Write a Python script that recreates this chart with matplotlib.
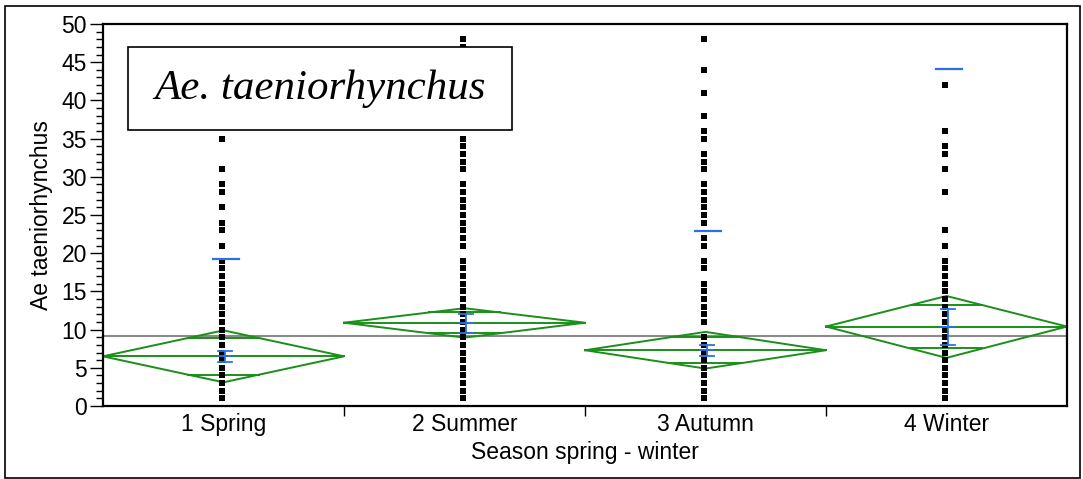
import numpy as np
import matplotlib
matplotlib.use('Agg')
import matplotlib.pyplot as plt
from matplotlib.patches import Rectangle

plt.rcParams['font.family'] = ['Liberation Sans', 'DejaVu Sans']

# Data
seasons = ['1 Spring', '2 Summer', '3 Autumn', '4 Winter']
spring = [1, 2, 3, 4, 5, 6, 7, 8, 9, 10, 11, 12, 13, 14, 15, 16, 17, 18, 19,
          21, 23, 24, 26, 28, 29, 31, 35]
summer = [1, 2, 3, 4, 5, 6, 7, 8, 9, 10, 11, 12, 13, 14, 15, 16, 17, 18, 19,
          21, 22, 23, 24, 25, 26, 27, 28, 29, 31, 32, 33, 34, 35, 38, 41, 44, 47, 48]
autumn = [1, 2, 3, 4, 5, 6, 7, 8, 9, 11, 12, 13, 14, 15, 16, 18, 19,
          21, 22, 24, 25, 26, 27, 28, 29, 31, 32, 33, 35, 36, 38, 41, 44, 48]
winter = [1, 2, 3, 4, 5, 6, 7, 8, 9, 10, 11, 12, 13, 14, 15, 16, 17, 18, 19,
          21, 23, 28, 31, 33, 34, 36, 42]
points = [spring, summer, autumn, winter]

means = [6.5, 10.9, 7.3, 10.4]
ci_low = [3.1, 8.95, 4.9, 6.3]
ci_high = [9.9, 12.8, 9.7, 14.4]
err_low = [5.8, 9.6, 6.5, 8.0]
err_high = [7.25, 12.0, 8.0, 12.65]
sd_upper = [19.2, 40.0, 22.9, 44.1]
grand_mean = 9.1

green = '#1a8f1a'
blue = '#2f6fe6'

fig = plt.figure(figsize=(10.83, 4.79), dpi=100)
ax = fig.add_axes([103 / 1083, 73 / 479, 964 / 1083, 382 / 479])

# grand mean line
ax.axhline(grand_mean, color='#8a8a8a', lw=1.5, zorder=1)

# means diamonds
for i, (m, lo, hi) in enumerate(zip(means, ci_low, ci_high)):
    ax.plot([i - 0.5, i, i + 0.5, i, i - 0.5], [m, hi, m, lo, m],
            color=green, lw=1.4, zorder=2)
    ax.plot([i - 0.5, i + 0.5], [m, m], color=green, lw=1.4, zorder=2)
    half = (hi - lo) / 2
    d = half / np.sqrt(2)
    w = 0.5 * (1 - d / half)
    for y in (m + d, m - d):
        ax.plot([i - w, i + w], [y, y], color=green, lw=1.4, zorder=2)

# raw points
for i, vals in enumerate(points):
    ax.plot(np.full(len(vals), i - 0.006), vals, 's', color='black',
            ms=3.8, mew=0, zorder=3)

# mean error bars and std dev lines
for i in range(4):
    x = i + 0.008
    ax.plot([x, x], [err_low[i], err_high[i]], color=blue, lw=1.3, zorder=4)
    for y in (err_low[i], err_high[i], means[i]):
        ax.plot([x - 0.029, x + 0.029], [y, y], color=blue, lw=1.3, zorder=4)
    xs = i + 0.012
    ax.plot([xs - 0.054, xs + 0.054], [sd_upper[i], sd_upper[i]],
            color=blue, lw=1.6, zorder=4)

ax.set_xlim(-0.5, 3.5)
ax.set_ylim(0, 50)
ax.set_yticks(np.arange(0, 51, 5))
ax.set_yticks(np.arange(0, 51, 1), minor=True)
ax.tick_params(axis='y', which='major', length=9.5, width=1.0, labelsize=16.5, pad=2)
ax.tick_params(axis='y', which='minor', length=5, width=1.0)

ax.set_xticks([0.5, 1.5, 2.5])
ax.set_xticklabels([])
ax.set_xticks(range(4), minor=True)
ax.set_xticklabels(seasons, minor=True)
ax.tick_params(axis='x', which='major', length=7.5, width=1.0)
ax.tick_params(axis='x', which='minor', length=0, labelsize=16.5, pad=5)

for s in ax.spines.values():
    s.set_linewidth(1.6)

ax.set_xlabel('Season spring - winter', fontsize=16.5, labelpad=4)
ax.set_ylabel('Ae taeniorhynchus', fontsize=16.5, labelpad=6)

# species label box
ax.add_patch(Rectangle((0.026, 0.7225), 0.398, 0.2175, transform=ax.transAxes,
                       facecolor='white', edgecolor='black', lw=1.2, zorder=5))
ax.text(0.225, 0.831, 'Ae. taeniorhynchus', transform=ax.transAxes,
        ha='center', va='center', fontsize=31, style='italic',
        family='Liberation Serif', zorder=6)

# outer frame
fig.add_artist(Rectangle((5 / 1083, 1.5 / 479), 1075 / 1083, 472 / 479,
                         transform=fig.transFigure, fill=False,
                         edgecolor='black', lw=1.2))

fig.savefig('out.png', dpi=100)
